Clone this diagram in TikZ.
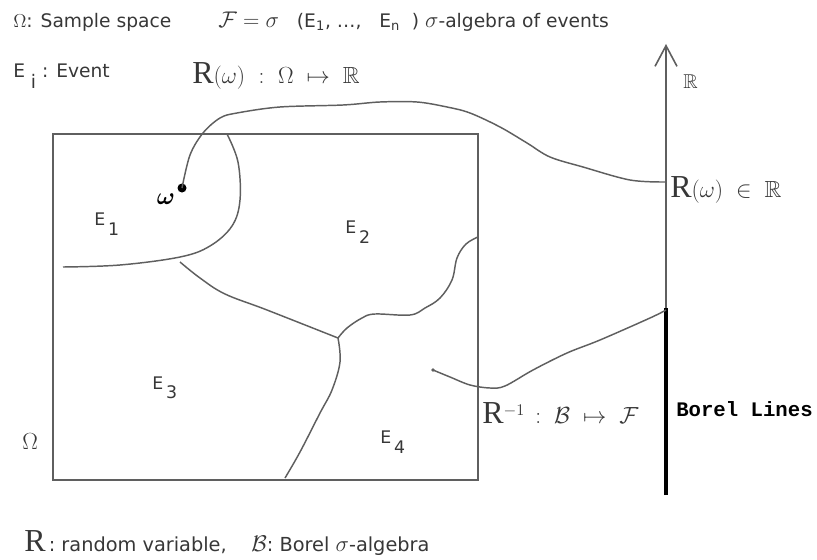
\RequirePackage{fix-cm}
\documentclass[tikz,border=0pt]{standalone}
\usepackage{amsmath,amssymb}
\usepackage{fontspec}
\newfontfamily\sansf{DejaVu Sans}
\newfontfamily\serff{Liberation Serif}
\newfontfamily\monof{Liberation Mono}
\usetikzlibrary{arrows.meta}
\definecolor{linegray}{RGB}{95,95,95}
\definecolor{inkgray}{RGB}{55,55,55}
\newcommand{\rvR}{{\serff\fontsize{24}{24}\selectfont R}}
\newcommand{\ev}[1]{E\,\raisebox{-1.0ex}{#1}}
\tikzset{
  lbl/.style={inner sep=0pt, anchor=west, text=inkgray, font=\sansf\fontsize{14}{16}\selectfont},
  evlbl/.style={inner sep=0pt, anchor=west, text=inkgray, font=\sansf\fontsize{13}{15}\selectfont},
  mlbl/.style={inner sep=0pt, anchor=west, text=inkgray, font=\fontsize{17.5}{19}\selectfont},
  border/.style={draw=linegray, line width=1.4pt},
  curve/.style={draw=linegray, line width=1.1pt, line join=round},
  axis/.style={draw=linegray, line width=1.2pt, -{Straight Barb[length=15.5pt, width=16.5pt]}},
  borel/.style={draw=black, line width=3pt}
}

\begin{document}
\begin{tikzpicture}[x=0.75pt, y=-0.75pt]
  \useasboundingbox (0,0) rectangle (817,560);

  % legend lines
  \node[lbl] (omleg) at (13,22) {$\Omega$: Sample space};
  \node[lbl] (sigleg) at (218,22) {{\fontsize{17}{17}\selectfont$\mathcal{F}=\sigma$}\ \ \ (E\textsubscript{1},\ …,\ \ \ E\textsubscript{n}\ \ ) {\fontsize{17}{17}\selectfont$\sigma$}-algebra of events};
  \node[lbl] (evleg) at (13,76) {E\ \raisebox{-1.1ex}{i}\ : Event};
  \node[mlbl] (mapleg) at (192,76) {\rvR$(\omega)\ :\ \Omega\;\mapsto\;\mathbb{R}$};

  % sample space
  \coordinate (omSW) at (53,480);
  \coordinate (omNE) at (478,134);
  \draw[border] (omSW) rectangle (omNE);
  \node[mlbl] (omlbl) at (22,442) {$\Omega$};

  % events
  \draw[curve] plot[smooth, tension=0.6] coordinates {(227,134) (238,162) (240,200) (232,226) (210,246) (180,257) (120,265) (63,267)};
  \draw[curve] plot[smooth, tension=0.6] coordinates {(180,262) (200,278) (225,294) (267,310) (338,338)};
  \draw[curve] plot[smooth, tension=0.6] coordinates {(338,338) (340,362) (332,390) (320,413) (300,452) (285,478)};
  \draw[curve] plot[smooth, tension=0.6] coordinates {(338,338) (347,328) (362,318) (375,314) (410,315) (425,308) (440,298) (452,280) (457,258) (466,244) (478,237)};
  \node[evlbl] (e1) at (94,224) {\ev{1}};
  \node[evlbl] (e2) at (345,232) {\ev{2}};
  \node[evlbl] (e3) at (152,388) {\ev{3}};
  \node[evlbl] (e4) at (380,442) {\ev{4}};

  % real line
  \coordinate (axbot) at (666,495);
  \coordinate (axtop) at (666,44);
  \coordinate (borelTop) at (666,308);
  \draw[axis] (axbot) -- (axtop);
  \draw[borel] (axbot) -- (borelTop);
  \node[mlbl, font=\fontsize{15}{17}\selectfont] (rlbl) at (683,82) {$\mathbb{R}$};

  % the map R
  \coordinate (omega) at (182,188);
  \coordinate (Rw) at (666,182);
  \fill[black] (omega) circle (4.5);
  \node[inner sep=0pt, font=\fontsize{18}{18}\selectfont] (omlab) at (166,199) {$\boldsymbol{\omega}$};
  \draw[curve] plot[smooth, tension=0.55] coordinates {(omega) (190,155) (203,133) (220,118) (237,113) (280,107) (343,105) (380,102) (417,102) (447,107) (470,113) (500,127) (527,143) (550,157) (583,167) (630,180) (Rw)};
  \node[mlbl] (rwlbl) at (670,190) {\rvR$(\omega)\;\in\;\mathbb{R}$};

  % inverse map
  \coordinate (preim) at (433,370);
  \coordinate (Binv) at (666,310);
  \fill[linegray] (preim) circle (1.8);
  \draw[curve] plot[smooth, tension=0.55] coordinates {(preim) (450,377) (470,385) (490,388) (505,386) (533,370) (567,353) (600,340) (650,318) (Binv)};
  \node[mlbl] (invlbl) at (482,413) {\rvR$^{-1}\,:\;\mathcal{B}\;\mapsto\;\mathcal{F}$};
  \node[inner sep=0pt, anchor=west, font=\monof\bfseries\fontsize{15.5}{17}\selectfont] (borlbl) at (676,409) {Borel Lines};

  % bottom legend
  \node[lbl, font=\sansf\fontsize{14.5}{17}\selectfont] (rvleg) at (24,543) {\rvR\,:\ random variable,\ \ \ \ {\fontsize{17}{17}\selectfont$\mathcal{B}$}:\ Borel {\fontsize{17}{17}\selectfont$\sigma$}-algebra};
\end{tikzpicture}
\end{document}
